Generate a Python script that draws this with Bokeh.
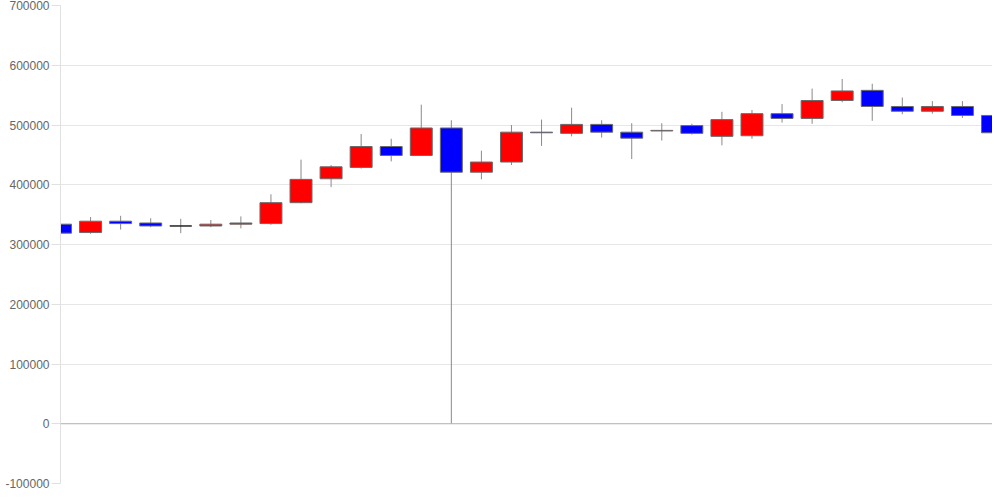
from bokeh.plotting import figure
from bokeh.models import ColumnDataSource, Range1d, SingleIntervalTicker, NumeralTickFormatter, Span
from bokeh.embed import file_html
from bokeh.resources import INLINE

# OHLC data (32 periods)
opens = [334000, 320000, 339000, 336000, 331000, 331000, 334000, 335000,
         370000, 410000, 429000, 464000, 449000, 495000, 421000, 438000,
         488000, 486000, 501000, 488000, 490000, 499000, 481000, 482000,
         519000, 511000, 541000, 558000, 531000, 523000, 531000, 516000]
highs = [357000, 346000, 348000, 344000, 343000, 341000, 347000, 384000,
         442000, 433000, 485000, 477000, 534000, 508000, 457000, 500000,
         509000, 529000, 508000, 503000, 503000, 502000, 522000, 525000,
         535000, 561000, 577000, 569000, 546000, 540000, 540000, 523000]
lows = [318000, 318000, 325000, 329000, 319000, 329000, 327000, 333000,
        369000, 396000, 427000, 439000, 448000, 0, 409000, 433000,
        465000, 481000, 479000, 443000, 474000, 484000, 466000, 477000,
        504000, 502000, 538000, 507000, 518000, 519000, 512000, 470000]
closes = [319000, 339000, 335000, 331000, 331000, 334000, 336000, 370000,
          409000, 430000, 464000, 449000, 495000, 421000, 438000, 488000,
          487000, 501000, 488000, 478000, 491000, 486000, 509000, 519000,
          511000, 541000, 557000, 531000, 523000, 531000, 516000, 487000]

idx = list(range(len(opens)))
up_color = "#ff0000"
down_color = "#0000ff"
colors = [up_color if c >= o else down_color for o, c in zip(opens, closes)]
outline = ["#222222" if c == o else "#6a6a6a" for o, c in zip(opens, closes)]
tops = [max(o, c) for o, c in zip(opens, closes)]
bottoms = [min(o, c) for o, c in zip(opens, closes)]

src = ColumnDataSource(dict(x=idx, high=highs, low=lows, top=tops, bottom=bottoms,
                            color=colors, outline=outline))

p = figure(width=992, height=492, output_backend="svg", toolbar_location=None,
           x_range=Range1d(0, len(idx) - 1), y_range=Range1d(-100000, 700000),
           min_border_left=60, min_border_right=0, min_border_top=5, min_border_bottom=9)

p.segment(x0="x", y0="high", x1="x", y1="low", source=src, line_color="#8a8a8a", line_width=1)
p.vbar(x="x", width=0.73, top="top", bottom="bottom", source=src,
       fill_color="color", line_color="outline", line_width=1)

p.add_layout(Span(location=0, dimension="width", line_color="#b4b4b4", line_width=1))

p.xaxis.visible = False
p.xgrid.visible = False
p.ygrid.grid_line_color = "#e6e6e6"
p.outline_line_color = None

ya = p.yaxis[0]
ya.ticker = SingleIntervalTicker(interval=100000)
ya.formatter = NumeralTickFormatter(format="0")
ya.axis_line_color = "#e0e0e0"
ya.major_tick_line_color = "#e0e0e0"
ya.major_tick_out = 9
ya.major_tick_in = 0
ya.minor_tick_line_color = None
ya.major_label_text_font = "Liberation Sans"
ya.major_label_text_font_size = "12px"
ya.major_label_text_color = "#666666"
ya.major_label_standoff = 2

open("out.html", "w").write(file_html(p, INLINE))
